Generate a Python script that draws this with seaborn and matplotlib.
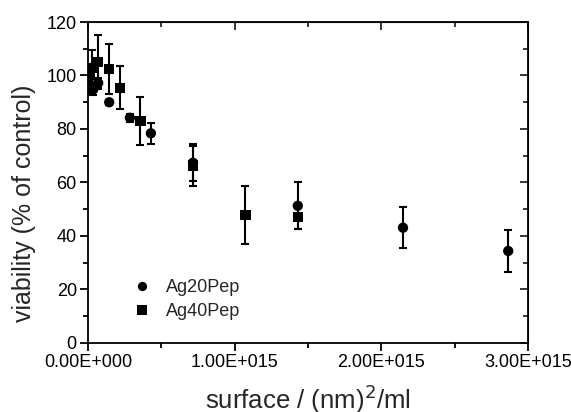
import numpy as np
import pandas as pd
import matplotlib
matplotlib.use("Agg")
import matplotlib.pyplot as plt
from matplotlib.ticker import FuncFormatter, MultipleLocator
import seaborn as sns

sns.set_style("ticks")
plt.rcParams['font.family'] = ['Liberation Sans', 'DejaVu Sans']

# Ag20Pep (circles)
x20 = [0.020e15, 0.036e15, 0.070e15, 0.145e15, 0.286e15, 0.429e15, 0.716e15, 1.430e15, 2.147e15, 2.864e15]
y20 = [96.4, 94.8, 97.2, 90.0, 84.2, 78.4, 67.4, 51.3, 43.1, 34.4]
e20 = [3.0, 2.0, 2.0, 1.0, 1.5, 4.0, 7.0, 8.8, 7.6, 8.0]

# Ag40Pep (squares)
x40 = [0.010e15, 0.030e15, 0.070e15, 0.145e15, 0.218e15, 0.358e15, 0.716e15, 1.073e15, 1.430e15]
y40 = [100.2, 102.7, 105.0, 102.4, 95.4, 83.0, 66.3, 47.9, 47.0]
e40 = [4.0, 7.0, 10.0, 9.5, 8.0, 9.0, 7.5, 10.8, 4.4]

df = pd.DataFrame({
    'surface': x20 + x40,
    'viability': y20 + y40,
    'err': e20 + e40,
    'sample': ['Ag20Pep'] * len(x20) + ['Ag40Pep'] * len(x40),
})

fig = plt.figure(figsize=(5.71, 4.12), dpi=100)
ax = fig.add_axes([0.154, 0.1675, 0.771, 0.7791])

ax.errorbar(df['surface'], df['viability'], yerr=df['err'], fmt='none',
            ecolor='black', elinewidth=1.5, capsize=3, capthick=1.5, zorder=2)
sns.scatterplot(data=df, x='surface', y='viability', style='sample',
                markers={'Ag20Pep': 'o', 'Ag40Pep': 's'}, color='black',
                s=55, edgecolor='black', linewidth=0, ax=ax, zorder=3)

ax.set_xlim(0, 3e15)
ax.set_ylim(0, 120)
ax.xaxis.set_major_locator(MultipleLocator(1e15))
ax.xaxis.set_minor_locator(MultipleLocator(0.5e15))
ax.yaxis.set_major_locator(MultipleLocator(20))
ax.yaxis.set_minor_locator(MultipleLocator(10))


def sci(v, pos):
    if v == 0:
        return '0.00E+000'
    ex = int(np.floor(np.log10(abs(v))))
    return '%.2fE+%03d' % (v / 10 ** ex, ex)


ax.xaxis.set_major_formatter(FuncFormatter(sci))

for s in ax.spines.values():
    s.set_linewidth(1.3)
    s.set_color('black')
ax.tick_params(which='both', direction='out', width=1.3, colors='black',
               labelsize=13, top=False, right=False)
ax.tick_params(which='major', length=6, pad=2)
ax.tick_params(which='minor', length=3.5)

# inward ticks on top/right like the original
axt = ax.secondary_xaxis('top')
axt.xaxis.set_major_locator(MultipleLocator(1e15))
axt.xaxis.set_minor_locator(MultipleLocator(0.5e15))
axt.tick_params(which='both', direction='in', width=1.3, labeltop=False)
axt.tick_params(which='major', length=6)
axt.tick_params(which='minor', length=3.5)
axr = ax.secondary_yaxis('right')
axr.yaxis.set_major_locator(MultipleLocator(20))
axr.yaxis.set_minor_locator(MultipleLocator(10))
axr.tick_params(which='both', direction='in', width=1.3, labelright=False)
axr.tick_params(which='major', length=6)
axr.tick_params(which='minor', length=3.5)

ax.set_xlabel('surface / (nm)$^2$/ml', fontsize=18.5, labelpad=8)
ax.set_ylabel('viability (% of control)', fontsize=18)
ax.yaxis.set_label_coords(-0.117, 0.436)

leg = ax.legend(title=None, frameon=False, fontsize=13, loc='lower left',
                bbox_to_anchor=(0.045, 0.02), handletextpad=0.3, labelspacing=0.4,
                markerscale=0.9)

fig.savefig('out.png', dpi=100)
